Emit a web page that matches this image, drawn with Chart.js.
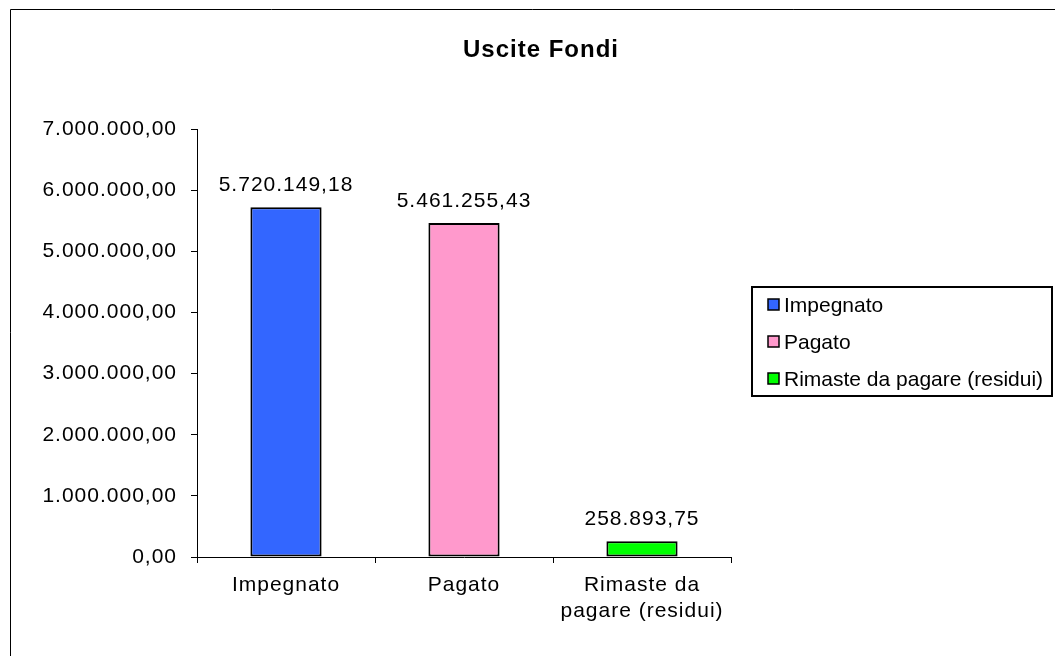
<!DOCTYPE html>
<html>
<head>
<meta charset="utf-8">
<script src="https://cdn.jsdelivr.net/npm/chart.js@4/dist/chart.umd.min.js"></script>
<style>
  html, body { margin: 0; padding: 0; background: #fff; }
  #wrap { width: 1055px; height: 656px; position: relative; }
</style>
</head>
<body>
<div id="wrap"><canvas id="c" width="1055" height="656"></canvas></div>
<script>
const chartTitle = 'Uscite Fondi';
const categories = ['Impegnato', 'Pagato', ['Rimaste da', 'pagare (residui)']];
const values = [5720149.18, 5461255.43, 258893.75];
const barColors = ['#3366FF', '#FF99CC', '#00FF00'];
const yMin = 0;
const yMax = 7000000;
const yStep = 1000000;

const FONT = "'Liberation Sans', Arial, sans-serif";
const FS = 21;

function fmtIt(v) {
  const parts = Math.abs(v).toFixed(2).split('.');
  const intPart = parts[0].replace(/\B(?=(\d{3})+(?!\d))/g, '.');
  return (v < 0 ? '-' : '') + intPart + ',' + parts[1];
}

function setSpacing(ctx, s) {
  try { ctx.letterSpacing = s; } catch (e) {}
}

const framePlugin = {
  id: 'frame',
  beforeDraw(chart) {
    const ctx = chart.ctx;
    ctx.save();
    ctx.fillStyle = '#fff';
    ctx.fillRect(0, 0, chart.width, chart.height);
    ctx.strokeStyle = '#000';
    ctx.lineWidth = 1;
    ctx.beginPath();
    ctx.moveTo(10.5, chart.height);
    ctx.lineTo(10.5, 9.5);
    ctx.lineTo(chart.width, 9.5);
    ctx.stroke();
    ctx.font = 'bold 24px ' + FONT;
    ctx.fillStyle = '#000';
    ctx.textAlign = 'center';
    ctx.textBaseline = 'middle';
    setSpacing(ctx, '1px');
    ctx.fillText(chartTitle, 541, 50);
    ctx.restore();
    // axis and value labels are drawn a little wider, like the reference
    setSpacing(ctx, '1px');
  }
};

const valueLabelPlugin = {
  id: 'valueLabels',
  afterDatasetsDraw(chart) {
    const ctx = chart.ctx;
    const meta = chart.getDatasetMeta(0);
    ctx.save();
    setSpacing(ctx, '1px');
    ctx.font = FS + 'px ' + FONT;
    ctx.fillStyle = '#000';
    ctx.textAlign = 'center';
    ctx.textBaseline = 'middle';
    meta.data.forEach((bar, i) => {
      ctx.fillText(fmtIt(chart.data.datasets[0].data[i]), bar.x, bar.y - 22);
    });
    ctx.restore();
  }
};

const boxLegendPlugin = {
  id: 'boxLegend',
  afterDraw(chart) {
    const ctx = chart.ctx;
    const left = 752, top = 287, w = 300, h = 109;
    ctx.save();
    setSpacing(ctx, '0px');
    ctx.strokeStyle = '#000';
    ctx.lineWidth = 2;
    ctx.strokeRect(left, top, w, h);
    ctx.font = FS + 'px ' + FONT;
    ctx.textBaseline = 'middle';
    ctx.textAlign = 'left';
    const labels = chart.data.labels;
    const colors = chart.data.datasets[0].backgroundColor;
    const rowY = [305, 342, 379];
    labels.forEach((lab, i) => {
      const text = Array.isArray(lab) ? lab.join(' ') : lab;
      const y = rowY[i];
      ctx.fillStyle = colors[i];
      ctx.fillRect(768, y - 6, 11, 11);
      ctx.lineWidth = 1.5;
      ctx.strokeStyle = '#000';
      ctx.strokeRect(768, y - 6, 11, 11);
      ctx.fillStyle = '#000';
      ctx.fillText(text, 784, y + 1);
    });
    ctx.restore();
  }
};

new Chart(document.getElementById('c'), {
  type: 'bar',
  data: {
    labels: categories,
    datasets: [{
      data: values,
      backgroundColor: barColors,
      borderColor: '#000',
      borderWidth: 2,
      borderSkipped: false,
      barPercentage: 0.8,
      categoryPercentage: 0.5
    }]
  },
  options: {
    responsive: false,
    animation: false,
    devicePixelRatio: 1,
    layout: { padding: { left: 0, right: 324, top: 129, bottom: 0 } },
    plugins: {
      legend: { display: false },
      tooltip: { enabled: false },
      title: { display: false }
    },
    scales: {
      x: {
        grid: { offset: true, drawOnChartArea: false, drawTicks: true, tickLength: 6, color: '#000' },
        border: { display: true, color: '#000', width: 1 },
        ticks: { color: '#000', font: { family: FONT, size: FS, lineHeight: 1.25 }, padding: 9, maxRotation: 0, autoSkip: false },
        afterFit(s) { s.height = 99; }
      },
      y: {
        min: yMin,
        max: yMax,
        grid: { drawOnChartArea: false, drawTicks: true, tickLength: 6, color: '#000' },
        border: { display: true, color: '#000', width: 1 },
        ticks: {
          stepSize: yStep,
          color: '#000',
          padding: 14,
          font: { family: FONT, size: FS },
          callback: (v) => fmtIt(v)
        },
        afterFit(s) { s.width = 197; }
      }
    }
  },
  plugins: [framePlugin, valueLabelPlugin, boxLegendPlugin]
});
</script>
</body>
</html>
